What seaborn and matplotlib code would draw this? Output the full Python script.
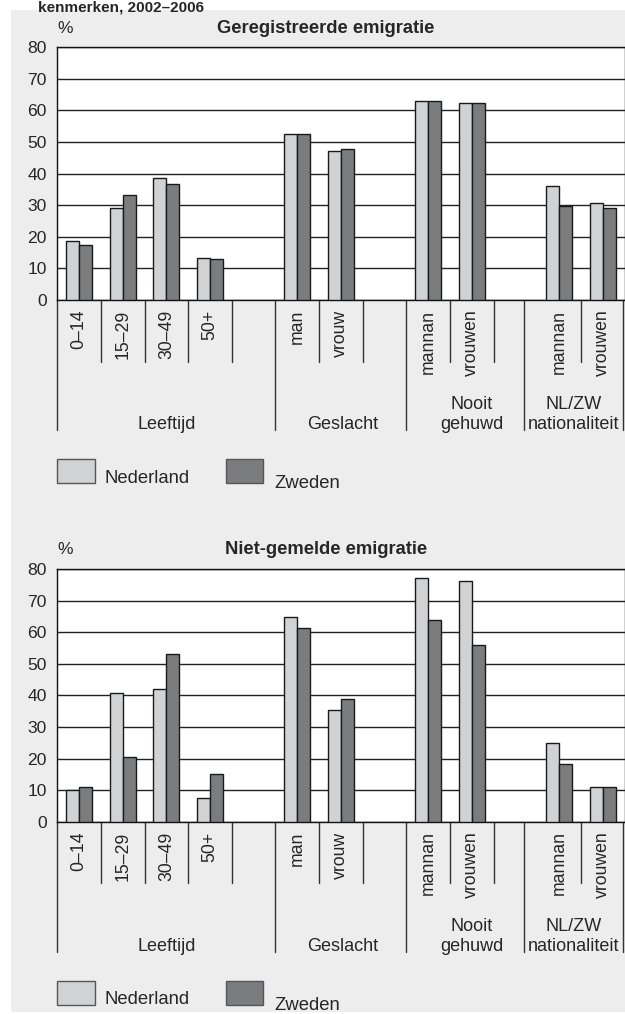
import pandas as pd
import seaborn as sns
import matplotlib.pyplot as plt
from matplotlib.patches import Rectangle

sns.set_style("white")
plt.rcParams["font.family"] = ["Liberation Sans", "DejaVu Sans"]

# categorie-sleutels (lege plekken als scheiding tussen de groepen)
cats = ["0-14", "15-29", "30-49", "50+", "gap1", "man", "vrouw", "gap2",
        "ng_mannan", "ng_vrouwen", "gap3", "nat_mannan", "nat_vrouwen"]
tick_labels = ["0\u201314", "15\u201329", "30\u201349", "50+", "", "man", "vrouw", "",
               "mannan", "vrouwen", "", "mannan", "vrouwen"]
bar_cats = ["0-14", "15-29", "30-49", "50+", "man", "vrouw",
            "ng_mannan", "ng_vrouwen", "nat_mannan", "nat_vrouwen"]

landen = ["Nederland", "Zweden"]

nl_geregistreerd = [18.7, 29.2, 38.5, 13.4, 52.4, 47.2, 63.0, 62.4, 36.2, 30.8]
zw_geregistreerd = [17.4, 33.3, 36.8, 12.9, 52.4, 47.9, 63.0, 62.4, 29.7, 29.1]
nl_niet_gemeld = [10.1, 40.6, 41.9, 7.6, 64.9, 35.4, 77.1, 76.1, 24.8, 11.1]
zw_niet_gemeld = [11.1, 20.6, 53.1, 15.2, 61.3, 38.9, 63.7, 56.0, 18.2, 11.1]

groups = ["Leeftijd", "Geslacht", "Nooit\ngehuwd", "NL/ZW\nnationaliteit"]

kleuren = ["#d1d2d4", "#7b7c7e"]

W, H = 625, 1014
fig = plt.figure(figsize=(W / 100, H / 100), dpi=100)
fig.patch.set_facecolor("white")


def fx(x):
    return x / W


def fy(y):
    return 1 - y / H


# grijze achtergrond
fig.patches.append(Rectangle((fx(11), fy(1012)), fx(625 - 11), (1012 - 10) / H,
                             transform=fig.transFigure, facecolor="#ededed",
                             edgecolor="none", zorder=-10))

fig.text(fx(38), fy(0.5), "kenmerken, 2002\u20132006", fontsize=11, fontweight="bold",
         va="top", ha="left")


def panel(top, title, nl, zw):
    bottom = top + 252.7
    ax = fig.add_axes([fx(57.3), fy(bottom), (624.5 - 57.3) / W, (bottom - top) / H])
    ax.set_facecolor("white")
    df = pd.DataFrame({
        "cat": bar_cats * 2,
        "land": [landen[0]] * len(nl) + [landen[1]] * len(zw),
        "val": nl + zw,
    })
    sns.barplot(data=df, x="cat", y="val", hue="land", order=cats, hue_order=landen,
                palette=kleuren, width=0.6, edgecolor="#1a1a1a", linewidth=1,
                legend=False, ax=ax, zorder=3)
    ax.set_xlim(-0.5, 12.5)
    ax.set_ylim(0, 80)
    ax.set_yticks(range(0, 81, 10))
    ax.yaxis.grid(True, color="#222222", linewidth=1)
    ax.set_axisbelow(True)
    for s in ax.spines.values():
        s.set_color("#111111")
        s.set_linewidth(1)
    ax.set_xticks(range(len(cats)))
    ax.set_xticklabels(tick_labels, rotation=90, fontsize=12.7)
    ax.tick_params(axis="x", length=0, pad=7)
    ax.tick_params(axis="y", length=0, pad=7.5, labelsize=12.6)
    ax.set_xlabel("")
    ax.set_ylabel("")

    h = bottom - top
    tr = ax.get_xaxis_transform()
    for x in [0.5, 1.5, 2.5, 3.5, 5.5, 6.5, 8.5, 9.5, 11.5]:
        ax.plot([x, x], [0, -61.7 / h], transform=tr, color="#333333", lw=1, clip_on=False)
    for x in [-0.5, 4.5, 7.5, 10.2, 12.47]:
        ax.plot([x, x], [0, -130 / h], transform=tr, color="#333333", lw=1, clip_on=False)

    gx = [2.0, 6.05, 9.0, 11.34]
    for x, g in zip(gx, groups):
        lines = g.split("\n")
        for i, line in enumerate(reversed(lines)):
            ax.text(x, -(129.3 - i * 20.3) / h, line, transform=tr, ha="center",
                    va="baseline", fontsize=13)

    fig.text(fx(57), fy(top - 19), "%", fontsize=12.5, ha="left", va="center")
    fig.text(fx(326), fy(top - 19), title, fontsize=13.2, fontweight="bold",
             ha="center", va="center")

    # legenda
    ly = top + 412
    for (x0, x1, tx, dy), kleur, naam in zip([(57, 95, 105, 0), (225.7, 263.3, 274, 5)],
                                             kleuren, landen):
        fig.patches.append(Rectangle((fx(x0), fy(ly + 24)), (x1 - x0) / W, 24 / H,
                                     transform=fig.transFigure, facecolor=kleur,
                                     edgecolor="#555555", linewidth=1, zorder=2))
        fig.text(fx(tx), fy(ly + 23.5 + dy), naam, fontsize=13.3, ha="left", va="baseline")
    return ax


panel(47.3, "Geregistreerde emigratie", nl_geregistreerd, zw_geregistreerd)
panel(569.0, "Niet-gemelde emigratie", nl_niet_gemeld, zw_niet_gemeld)

plt.savefig("out.png", dpi=100, facecolor=fig.get_facecolor())
